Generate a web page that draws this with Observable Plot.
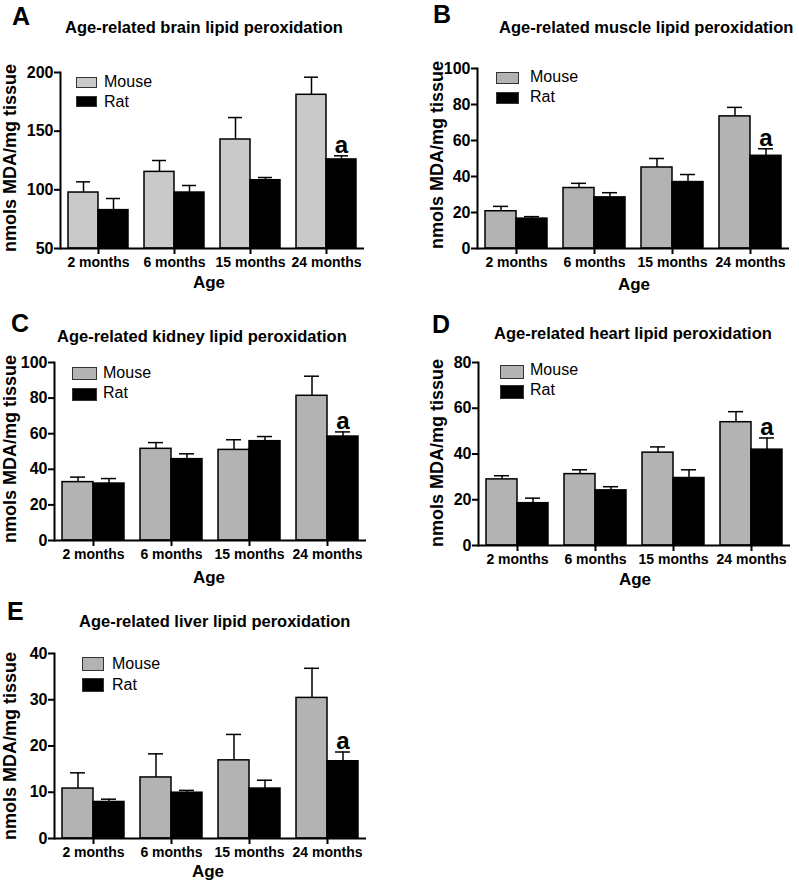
<!DOCTYPE html>
<html><head><meta charset="utf-8">
<script src="https://cdn.jsdelivr.net/npm/d3@7"></script>
<script src="https://cdn.jsdelivr.net/npm/@observablehq/plot@0.6"></script>
<style>
body{margin:0;background:#fff;}
#root{position:relative;width:799px;height:883px;overflow:hidden;font-family:"Liberation Sans",Arial,Helvetica,sans-serif;color:#000;}
.t{position:absolute;white-space:nowrap;line-height:1;}
.sw{position:absolute;box-sizing:border-box;border:1.5px solid #333;}
.panel{position:absolute;}
.panel g[aria-label="frame"], .panel [aria-label="frame"] path, .panel [aria-label="frame"] line{stroke-width:2px;}
.panel g[aria-label="y-axis tick"]{stroke-width:2px;}
</style></head><body><div id="root"></div>
<script>
// ---- data ----
const ages = ["2 months", "6 months", "15 months", "24 months"];
const species = ["Mouse", "Rat"];
const panelLetters = ["A", "B", "C", "D", "E"];
const titles = [
  "Age-related brain lipid peroxidation",
  "Age-related muscle lipid peroxidation",
  "Age-related kidney lipid peroxidation",
  "Age-related heart lipid peroxidation",
  "Age-related liver lipid peroxidation"
];
const yLabel = "nmols MDA/mg tissue";
const xLabel = "Age";

const brainTicks = [50, 100, 150, 200];
const muscleTicks = [0, 20, 40, 60, 80, 100];
const kidneyTicks = [0, 20, 40, 60, 80, 100];
const heartTicks = [0, 20, 40, 60, 80];
const liverTicks = [0, 10, 20, 30, 40];

const brainMouse = [97.7, 115.3, 142.9, 181.0];
const brainMouseSem = [9.1, 9.7, 18.7, 15.0];
const brainRat = [82.7, 97.7, 108.2, 125.9];
const brainRatSem = [9.9, 6.0, 2.3, 3.1];

const muscleMouse = [20.7, 33.6, 45.0, 73.4];
const muscleMouseSem = [2.7, 2.6, 5.0, 5.0];
const muscleRat = [16.6, 28.4, 36.9, 51.5];
const muscleRatSem = [1.1, 2.6, 4.2, 3.9];

const kidneyMouse = [32.8, 51.5, 50.9, 81.3];
const kidneyMouseSem = [2.8, 3.5, 5.7, 11.0];
const kidneyRat = [32.0, 45.7, 55.8, 58.4];
const kidneyRatSem = [2.8, 3.0, 2.6, 2.6];

const heartMouse = [28.9, 31.2, 40.6, 53.9];
const heartMouseSem = [1.6, 1.9, 2.5, 4.6];
const heartRat = [18.5, 24.1, 29.5, 41.9];
const heartRatSem = [2.2, 1.6, 3.6, 5.1];

const liverMouse = [10.8, 13.2, 16.9, 30.4];
const liverMouseSem = [3.4, 5.1, 5.6, 6.4];
const liverRat = [7.9, 9.9, 10.8, 16.7];
const liverRatSem = [0.6, 0.5, 1.8, 2.0];

// significance marks: group, species, label
const sigAge = ["24 months"];
const sigSpecies = ["Rat"];
const sigLabel = ["a"];

// ---- layout ----
const FONT = '"Liberation Sans", Arial, Helvetica, sans-serif';
const panels = [
  {mouse: brainMouse, mouseSem: brainMouseSem, rat: brainRat, ratSem: brainRatSem, ticks: brainTicks,
   fill: "#c9c9c9", ox: 0, oy: 0, w: 400, h: 300, mL: 59, mT: 72, mR: 35, mB: 52,
   letter: [12, 25], title: [65, 33], age: [209, 288], ylab: [10, 158],
   leg: {x: 76, y1: 77, y2: 96, w: 21, h: 11, tx: 104, b1: 87.5, b2: 108}},
  {mouse: muscleMouse, mouseSem: muscleMouseSem, rat: muscleRat, ratSem: muscleRatSem, ticks: muscleTicks,
   fill: "#b3b3b3", ox: 400, oy: 0, w: 399, h: 300, mL: 76, mT: 68, mR: 9, mB: 52,
   letter: [433, 23], title: [499, 33], age: [634, 290], ylab: [437, 155],
   leg: {x: 496, y1: 72, y2: 92, w: 23, h: 12, tx: 530, b1: 83, b2: 103}},
  {mouse: kidneyMouse, mouseSem: kidneyMouseSem, rat: kidneyRat, ratSem: kidneyRatSem, ticks: kidneyTicks,
   fill: "#b3b3b3", ox: 0, oy: 300, w: 400, h: 290, mL: 53, mT: 62, mR: 33, mB: 50,
   letter: [11, 332], title: [57, 342], age: [209, 583], ylab: [10, 449],
   leg: {x: 72, y1: 367, y2: 388, w: 25, h: 13, tx: 103, b1: 379, b2: 399}},
  {mouse: heartMouse, mouseSem: heartMouseSem, rat: heartRat, ratSem: heartRatSem, ticks: heartTicks,
   fill: "#b3b3b3", ox: 400, oy: 300, w: 399, h: 290, mL: 77, mT: 62, mR: 9, mB: 45,
   letter: [432, 333], title: [494, 339], age: [635, 585], ylab: [437, 453],
   leg: {x: 500, y1: 365, y2: 385, w: 24, h: 14, tx: 530, b1: 376, b2: 396}},
  {mouse: liverMouse, mouseSem: liverMouseSem, rat: liverRat, ratSem: liverRatSem, ticks: liverTicks,
   fill: "#b3b3b3", ox: 0, oy: 590, w: 400, h: 293, mL: 53, mT: 63, mR: 33, mB: 45,
   letter: [7, 620], title: [79, 627], age: [208, 877], ylab: [10, 746],
   leg: {x: 82, y1: 657, y2: 678, w: 22, h: 14, tx: 112, b1: 670, b2: 691}}
];

const root = document.getElementById("root");
function addText(str, x, baseline, size, weight, anchor) {
  const d = document.createElement("div");
  d.className = "t";
  d.textContent = str;
  d.style.fontSize = size + "px";
  d.style.fontWeight = weight;
  d.style.left = x + "px";
  d.style.top = (baseline - 0.8465 * size) + "px";
  if (anchor === "middle") d.style.transform = "translateX(-50%)";
  root.appendChild(d);
  return d;
}
function addRotated(str, cx, cy, size) {
  const d = document.createElement("div");
  d.className = "t";
  d.textContent = str;
  d.style.fontSize = size + "px";
  d.style.fontWeight = "bold";
  d.style.left = cx + "px";
  d.style.top = cy + "px";
  d.style.transform = "translate(-50%,-50%) rotate(-90deg)";
  root.appendChild(d);
}
function addSwatch(x, y, w, h, color) {
  const d = document.createElement("div");
  d.className = "sw";
  Object.assign(d.style, {left: x + "px", top: y + "px", width: w + "px", height: h + "px", background: color});
  root.appendChild(d);
}

panels.forEach((p, k) => {
  const rows = [];
  ages.forEach((age, i) => {
    rows.push({age, species: "Mouse", value: p.mouse[i], err: p.mouse[i] + p.mouseSem[i]});
    rows.push({age, species: "Rat", value: p.rat[i], err: p.rat[i] + p.ratSem[i]});
  });
  const sig = sigAge.map((a, i) => {
    const r = rows.find(d => d.age === a && d.species === sigSpecies[i]);
    return {age: a, species: sigSpecies[i], err: r.err, label: sigLabel[i]};
  });
  const base = p.ticks[0];
  const top = p.ticks[p.ticks.length - 1];
  const chart = Plot.plot({
    width: p.w, height: p.h,
    marginLeft: p.mL, marginTop: p.mT, marginRight: p.mR, marginBottom: p.mB,
    style: {fontFamily: FONT, fontWeight: "bold", fontSize: "16px", background: "transparent", color: "#000", overflow: "visible"},
    fx: {domain: ages, padding: 0, label: null},
    x: {domain: species, paddingInner: 0, paddingOuter: 0.23, axis: null},
    y: {domain: [base, top], ticks: p.ticks, line: true, tickSize: 6, tickPadding: 1, label: null},
    color: {domain: species, range: [p.fill, "#000"]},
    marks: [
      Plot.barY(rows, {fx: "age", x: "species", y1: base, y2: "value", fill: "species", stroke: "#000", strokeWidth: 1.5}),
      Plot.ruleX(rows, {fx: "age", x: "species", y1: "value", y2: "err", stroke: "#000", strokeWidth: 1.5}),
      Plot.tickY(rows, {fx: "age", x: "species", y: "err", stroke: "#000", strokeWidth: 1.5, insetLeft: 8, insetRight: 8}),
      Plot.text(sig, {fx: "age", x: "species", y: "err", text: "label", lineAnchor: "bottom", dy: -3, fontSize: 24, fontWeight: "bold"}),
      Plot.ruleY([base], {stroke: "#000", strokeWidth: 2}),
      Plot.axisFx({anchor: "bottom", tickSize: 6, tickPadding: 3, fontSize: 14, fontWeight: "bold", label: null, strokeWidth: 2})
    ]
  });
  chart.classList.add("panel");
  chart.style.left = p.ox + "px";
  chart.style.top = p.oy + "px";
  chart.style.position = "absolute";
  root.appendChild(chart);

  addText(panelLetters[k], p.letter[0], p.letter[1], 25, "bold");
  addText(titles[k], p.title[0], p.title[1], 16.5, "bold");
  addText(xLabel, p.age[0], p.age[1], 17, "bold", "middle");
  addRotated(yLabel, p.ylab[0], p.ylab[1], 18);
  const L = p.leg;
  addSwatch(L.x, L.y1, L.w, L.h, p.fill);
  addSwatch(L.x, L.y2, L.w, L.h, "#000");
  addText(species[0], L.tx, L.b1, 16, "normal");
  addText(species[1], L.tx, L.b2, 16, "normal");
});
</script></body></html>
